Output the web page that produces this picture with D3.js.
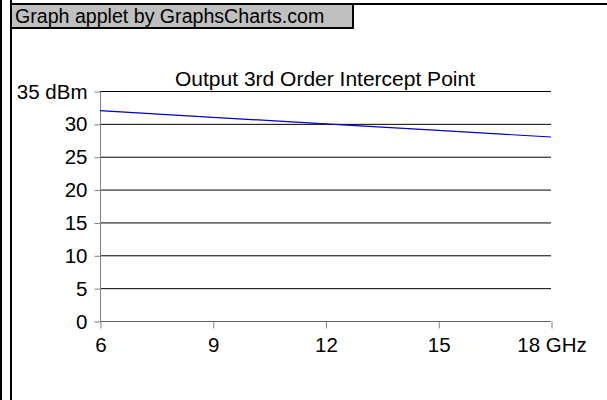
<!DOCTYPE html>
<html>
<head>
<meta charset="utf-8">
<script src="https://cdn.jsdelivr.net/npm/d3@7"></script>
<style>
  body { margin: 0; background: #fff; }
  text { font-family: "Liberation Sans", Arial, sans-serif; fill: #000; }
</style>
</head>
<body>
<script>
// data
const freqs = [6, 9, 12, 15, 18];
const oip3 = [32, 31, 30, 29, 28];
const yTicks = [0, 5, 10, 15, 20, 25, 30, 35];
const xTicks = [6, 9, 12, 15, 18];

const W = 607, H = 400;
const svg = d3.select("body").append("svg")
    .attr("width", W)
    .attr("height", H);

// frame of the applet
svg.append("rect").attr("x", 0).attr("y", 0).attr("width", 2).attr("height", H).attr("fill", "#000");
svg.append("rect").attr("x", 10).attr("y", 0).attr("width", 2).attr("height", H).attr("fill", "#000");
svg.append("rect").attr("x", 10).attr("y", 3).attr("width", W - 10).attr("height", 2).attr("fill", "#000");

// header box
svg.append("rect").attr("x", 12).attr("y", 5).attr("width", 340).attr("height", 22).attr("fill", "#c0c0c0");
svg.append("rect").attr("x", 12).attr("y", 27).attr("width", 342).attr("height", 2).attr("fill", "#000");
svg.append("rect").attr("x", 352).attr("y", 5).attr("width", 2).attr("height", 24).attr("fill", "#000");
svg.append("text")
    .attr("x", 15).attr("y", 23)
    .style("font-size", "19.6px")
    .text("Graph applet by GraphsCharts.com");

const x = d3.scaleLinear().domain([6, 18]).range([100, 551]);
const y = d3.scaleLinear().domain([0, 35]).range([321, 91]);

// title
svg.append("text")
    .attr("x", 325).attr("y", 86)
    .attr("text-anchor", "middle")
    .style("font-size", "21px")
    .text("Output 3rd Order Intercept Point");

// horizontal grid
svg.append("g")
    .selectAll("line")
    .data(yTicks)
    .join("line")
    .attr("x1", x(6)).attr("x2", x(18))
    .attr("y1", d => y(d) + 0.5).attr("y2", d => y(d) + 0.5)
    .attr("stroke", d => d === 0 ? "#606060" : "#000")
    .attr("stroke-width", 1);

// y axis
const yAxis = svg.append("g")
    .attr("transform", "translate(100.5,0.5)")
    .call(d3.axisLeft(y).tickValues(yTicks).tickSize(6).tickPadding(7)
        .tickFormat(d => d === 35 ? "35 dBm" : d));
yAxis.select(".domain").attr("stroke", "#808080").attr("d", "M0," + y(35) + "V" + y(0));
yAxis.selectAll(".tick line").attr("stroke", "#808080");
yAxis.selectAll("text").style("font-size", "20.5px").attr("font-family", null);

// x axis
const xAxis = svg.append("g")
    .attr("transform", "translate(0.5," + (y(0) + 0.5) + ")")
    .call(d3.axisBottom(x).tickValues(xTicks).tickSize(7).tickPadding(9)
        .tickFormat(d => d === 18 ? "18 GHz" : d));
xAxis.select(".domain").remove();
xAxis.selectAll(".tick line").attr("stroke", "#808080");
xAxis.selectAll("text").style("font-size", "20.5px").attr("font-family", null);

// series line
svg.append("path")
    .datum(freqs.map((f, i) => [f, oip3[i]]))
    .attr("fill", "none")
    .attr("stroke", "#0000c8")
    .attr("stroke-width", 1.2)
    .attr("d", d3.line().x(d => x(d[0])).y(d => y(d[1])));
</script>
</body>
</html>
